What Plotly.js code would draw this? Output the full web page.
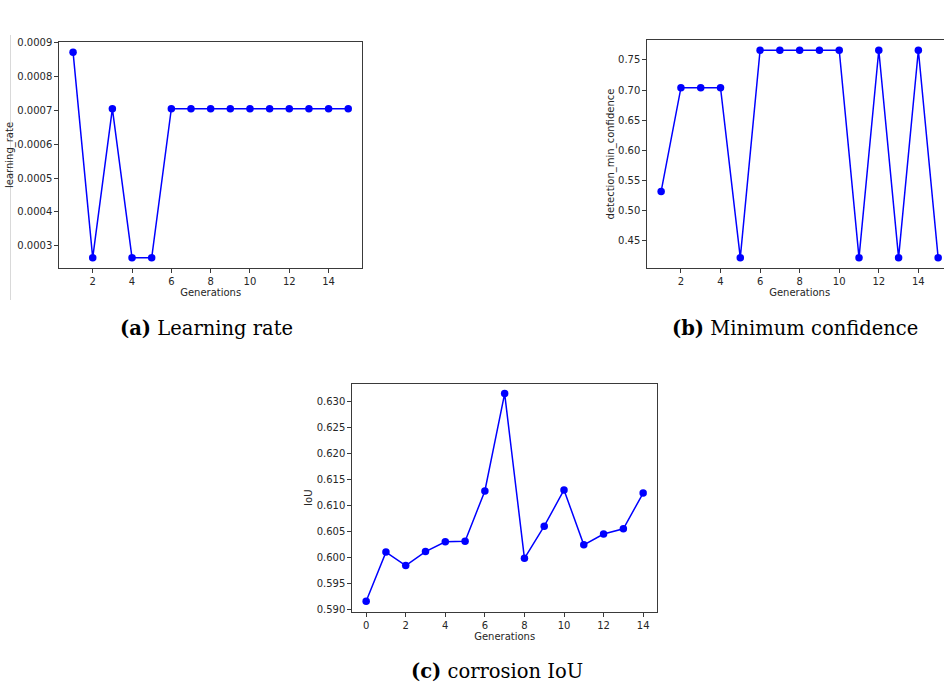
<!DOCTYPE html>
<html>
<head>
<meta charset="utf-8">
<script src="https://cdn.plot.ly/plotly-3.0.1.min.js"></script>
<style>
  html, body { margin: 0; padding: 0; background: #ffffff; overflow: hidden; }
  #chart { width: 960px; height: 685px; }
</style>
</head>
<body>
<div id="chart"></div>
<script>
// Hyperparameter search history across generations
const gensAB = [1, 2, 3, 4, 5, 6, 7, 8, 9, 10, 11, 12, 13, 14, 15];
const learningRate = [0.000872, 0.000264, 0.000705, 0.000264, 0.000264, 0.000705, 0.000705,
                      0.000705, 0.000705, 0.000705, 0.000705, 0.000705, 0.000705, 0.000705, 0.000705];
const minConfidence = [0.532, 0.704, 0.704, 0.704, 0.422, 0.766, 0.766, 0.766, 0.766, 0.766,
                       0.422, 0.766, 0.422, 0.766, 0.422];

const gensC = [0, 1, 2, 3, 4, 5, 6, 7, 8, 9, 10, 11, 12, 13, 14];
const corrosionIoU = [0.5915, 0.6010, 0.5984, 0.6011, 0.6030, 0.6031, 0.6128, 0.6316,
                      0.5998, 0.6060, 0.6130, 0.6024, 0.6045, 0.6055, 0.6124];

const captions = ["<b>(a)</b> Learning rate", "<b>(b)</b> Minimum confidence", "<b>(c)</b> corrosion IoU"];

const W = 960, H = 685;
const px = v => v / W;
const py = v => 1 - v / H;

const BLUE = "#0000ff";
const INK = "#262626";
const FRAME = "#3a3a3a";

function series(x, y, xa, ya) {
  return {
    x: x, y: y, xaxis: xa, yaxis: ya,
    type: "scatter", mode: "lines+markers",
    line: { color: BLUE, width: 1.5 },
    marker: { color: BLUE, size: 7.5 },
    cliponaxis: false,
    hoverinfo: "x+y"
  };
}

function xAxis(domain, range, anchor) {
  return {
    domain: domain, range: range, anchor: anchor,
    tick0: 0, dtick: 2, ticks: "outside", ticklen: 4, tickwidth: 1, tickcolor: FRAME,
    showline: true, mirror: true, linecolor: FRAME, linewidth: 1,
    showgrid: false, zeroline: false,
    tickfont: { family: "DejaVu Sans", size: 10, color: INK },
    title: { text: "Generations", font: { family: "DejaVu Sans", size: 10, color: INK }, standoff: 0 }
  };
}

function yAxis(domain, range, anchor, dtick, fmt, label) {
  return {
    domain: domain, range: range, anchor: anchor,
    tick0: 0, dtick: dtick, tickformat: fmt,
    ticks: "outside", ticklen: 4, tickwidth: 1, tickcolor: FRAME,
    showline: true, mirror: true, linecolor: FRAME, linewidth: 1,
    showgrid: false, zeroline: false,
    tickfont: { family: "DejaVu Sans", size: 10, color: INK },
    title: { text: label, font: { family: "DejaVu Sans", size: 10, color: INK }, standoff: 1.5 }
  };
}

const data = [
  series(gensAB, learningRate, "x", "y"),
  series(gensAB, minConfidence, "x2", "y2"),
  series(gensC, corrosionIoU, "x3", "y3")
];

const captionFont = { family: "DejaVu Serif", size: 19.5, color: "#000000" };

const layout = {
  width: W, height: H,
  margin: { l: 0, r: 0, t: 0, b: 0 },
  paper_bgcolor: "#ffffff", plot_bgcolor: "#ffffff",
  showlegend: false,
  xaxis:  xAxis([px(59.3), px(362)], [0.3, 15.7], "y"),
  yaxis:  yAxis([py(268), py(42)], [0.000234, 0.000902], "x", 0.0001, ".4f", "learning_rate"),
  xaxis2: xAxis([px(647.3), px(952)], [0.3, 15.7], "y2"),
  yaxis2: yAxis([py(268), py(40)], [0.405, 0.783], "x2", 0.05, ".2f", "detection_min_confidence"),
  xaxis3: xAxis([px(352.3), px(657)], [-0.7, 14.7], "y3"),
  yaxis3: yAxis([py(611.7), py(383.7)], [0.5895, 0.6335], "x3", 0.005, ".3f", "IoU"),
  annotations: [
    { text: captions[0], x: px(206), y: py(328), xref: "paper", yref: "paper",
      xanchor: "center", yanchor: "middle", showarrow: false, font: captionFont },
    { text: captions[1], x: px(795), y: py(328), xref: "paper", yref: "paper",
      xanchor: "center", yanchor: "middle", showarrow: false, font: captionFont },
    { text: captions[2], x: px(497), y: py(671), xref: "paper", yref: "paper",
      xanchor: "center", yanchor: "middle", showarrow: false, font: captionFont }
  ],
  shapes: [
    // page edge rule on the left
    { type: "line", xref: "paper", yref: "paper", x0: px(10.5), x1: px(10.5), y0: py(35), y1: py(300),
      line: { color: "#d9d9d9", width: 1 } }
  ]
};

Plotly.newPlot("chart", data, layout, { displayModeBar: false, staticPlot: true });
</script>
</body>
</html>
